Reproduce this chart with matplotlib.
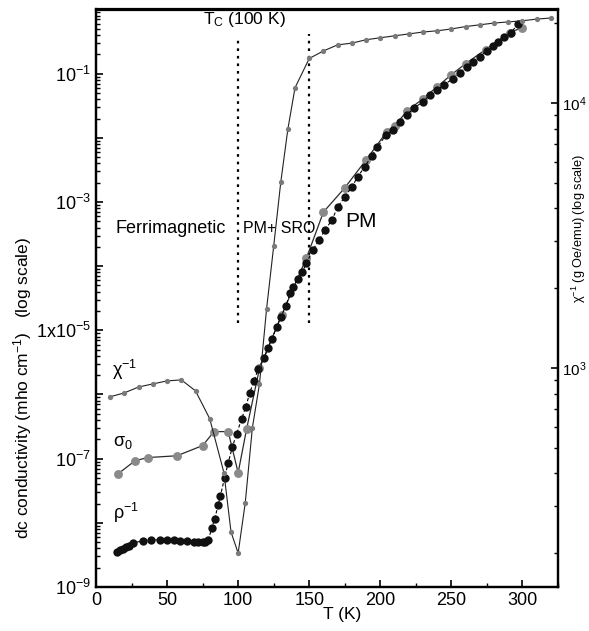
import matplotlib
matplotlib.use("Agg")
import matplotlib.pyplot as plt
from matplotlib.ticker import FixedLocator, FixedFormatter, LogLocator, NullFormatter

plt.rcParams['font.family'] = ['Liberation Sans', 'DejaVu Sans']
plt.rcParams['mathtext.fontset'] = 'custom'
plt.rcParams['mathtext.rm'] = 'Liberation Sans'
plt.rcParams['mathtext.it'] = 'Liberation Sans:italic'
plt.rcParams['mathtext.default'] = 'regular'

# rho^-1 : dc conductivity from resistivity (mho/cm)
rho_T = [15, 17, 19, 21, 23, 26, 33, 39, 45, 50, 55, 59, 64, 69, 72, 75, 77, 79,
         81.5, 83.5, 86, 87.5, 90.5, 93, 96, 99, 102.5, 105.5, 108, 111, 114, 118,
         121, 123.5, 127, 130, 133.5, 136.5, 138.5, 142, 145, 148, 152.5, 157, 161,
         166, 170, 175, 180, 184, 189, 194, 198, 204, 209, 214, 218.5, 224, 230,
         235, 240, 245, 251, 256, 261, 265, 270, 275, 279, 283, 287, 292, 297]
rho_inv = [3.52e-9, 3.79e-9, 3.93e-9, 4.22e-9, 4.37e-9, 4.87e-9, 5.23e-9, 5.43e-9,
           5.43e-9, 5.43e-9, 5.33e-9, 5.23e-9, 5.14e-9, 5.05e-9, 4.96e-9, 4.96e-9,
           5.05e-9, 5.4e-9, 8.35e-9, 1.155e-8, 1.91e-8, 2.64e-8, 5.05e-8, 8.66e-8,
           1.54e-7, 2.46e-7, 4.22e-7, 6.49e-7, 1.04e-6, 1.6e-6, 2.46e-6, 3.65e-6,
           5.24e-6, 7.2e-6, 1.11e-5, 1.6e-5, 2.37e-5, 3.79e-5, 4.7e-5, 6.3e-5, 8.0e-5,
           1.11e-4, 1.78e-4, 2.57e-4, 3.65e-4, 5.24e-4, 8.35e-4, 1.2e-3, 1.71e-3,
           2.46e-3, 3.52e-3, 5.24e-3, 7.2e-3, 0.0111, 0.0133, 0.0178, 0.0229, 0.0294,
           0.0365, 0.047, 0.0562, 0.0673, 0.0835, 0.104, 0.129, 0.154, 0.184, 0.229,
           0.274, 0.316, 0.379, 0.437, 0.6]

# sigma_0 : extracted dc conductivity
sig_T = [15.5, 27.5, 36.5, 57, 75, 83, 93, 100, 106, 115, 130.5, 148, 160, 175,
         190, 204.5, 210, 219, 230, 240, 250, 260, 274, 291, 300]
sig0 = [5.8e-8, 9.3e-8, 1.04e-7, 1.11e-7, 1.6e-7, 2.64e-7, 2.64e-7, 6.04e-8,
        2.94e-7, 2.55e-6, 1.71e-5, 1.33e-4, 6.98e-4, 1.66e-3, 4.53e-3, 0.0124,
        0.0154, 0.0264, 0.0407, 0.0626, 0.0964, 0.143, 0.237, 0.437, 0.523]

# chi^-1 : inverse susceptibility (g Oe/emu)
chi_T = [10, 20, 30, 40, 50, 60, 70, 80, 90, 95, 100, 105, 110, 115, 120, 125,
         130, 135, 140, 150, 160, 170, 180, 190, 200, 210, 220, 230, 240, 250,
         260, 270, 280, 290, 300, 310, 320]
chi_inv = [778, 805, 847, 870, 893, 901, 819, 643, 402, 240, 200, 310, 594, 870,
           1670, 2880, 5030, 7980, 11400, 14700, 15700, 16550, 16800, 17300, 17600,
           17900, 18200, 18500, 18700, 19000, 19400, 19700, 20000, 20200, 20400,
           20700, 20900]

left_decades = [1e-9, 1e-8, 1e-7, 1e-6, 1e-5, 1e-4, 1e-3, 1e-2, 1e-1]
left_labels = [r'10$^{-9}$', '', r'10$^{-7}$', '', r'1x10$^{-5}$', '',
               r'10$^{-3}$', '', r'10$^{-1}$']
right_decades = [1e3, 1e4]
right_labels = [r'10$^{3}$', r'10$^{4}$']
x_ticks = [0, 50, 100, 150, 200, 250, 300]

fig = plt.figure(figsize=(5.89, 6.31), dpi=100)
ax = fig.add_axes([96 / 589, 44 / 631, 462 / 589, 577.5 / 631])

ax.set_xlim(0, 325)
ax.set_yscale('log')
ax.set_ylim(1e-9, 1)

# phase boundaries
ax.plot([100, 100], [1.3e-5, 0.34], ls=(0, (1.2, 2.2)), color='black', lw=1.6)
ax.plot([150, 150], [1.3e-5, 0.41], ls=(0, (1.2, 2.2)), color='black', lw=1.6)

ax.plot(sig_T, sig0, '-', color='#2a2a2a', lw=0.9, zorder=3)
ax.plot(sig_T, sig0, 'o', color='#8a8a8a', ms=6.4, mec='none', zorder=4)
ax.plot(rho_T, rho_inv, '--', color='black', lw=0.8, dashes=(3, 2), zorder=5)
ax.plot(rho_T, rho_inv, 'o', color='#111111', ms=6.0, mec='none', zorder=6)

ax2 = ax.twinx()
ax2.set_yscale('log')
ax2.set_ylim(149, 22500)
ax2.plot(chi_T, chi_inv, '-', color='#222222', lw=0.8, zorder=3)
ax2.plot(chi_T, chi_inv, 'o', color='#7a7a7a', ms=3.8, mec='none', zorder=4)

# ticks
ax.yaxis.set_major_locator(FixedLocator(left_decades))
ax.yaxis.set_major_formatter(FixedFormatter(left_labels))
ax.yaxis.set_minor_locator(LogLocator(base=10, subs=range(2, 10), numticks=20))
ax.yaxis.set_minor_formatter(NullFormatter())
ax.set_xticks(x_ticks)
ax.set_xticks([25, 75, 125, 175, 225, 275, 325], minor=True)
ax.tick_params(axis='both', which='major', direction='in', length=5, width=1.2,
               labelsize=13)
ax.tick_params(axis='both', which='minor', direction='in', length=3, width=1.0)
ax.tick_params(axis='x', which='both', top=False)
ax.tick_params(axis='y', which='both', right=False)

ax2.yaxis.set_major_locator(FixedLocator(right_decades))
ax2.yaxis.set_major_formatter(FixedFormatter(right_labels))
ax2.yaxis.set_minor_locator(LogLocator(base=10, subs=range(2, 10), numticks=20))
ax2.yaxis.set_minor_formatter(NullFormatter())
ax2.tick_params(axis='y', which='major', direction='in', length=5, width=1.2,
                labelsize=11, pad=3)
ax2.tick_params(axis='y', which='minor', direction='in', length=3, width=1.0)

for a in (ax, ax2):
    for s in a.spines.values():
        s.set_linewidth(1.6)

ax.set_xlabel('T (K)', fontsize=12.5)
ax.xaxis.set_label_coords(0.532, -0.035)
ax.set_ylabel(r'dc conductivity (mho cm$^{-1}$)   (log scale)', fontsize=12.5)
ax.yaxis.set_label_coords(-0.135, 0.345)
ax2.set_ylabel(r'$\chi^{-1}$ (g Oe/emu) (log scale)', fontsize=9.2)
ax2.yaxis.set_label_coords(1.026, 0.62)

# annotations
ax.text(104.7, 0.70, r'T$_{\mathregular{C}}$ (100 K)', fontsize=12.5,
        ha='center', va='center')
ax.text(52.7, 3.8e-4, 'Ferrimagnetic', fontsize=13, ha='center', va='center')
ax.text(103.3, 3.8e-4, 'PM+ SRO', fontsize=11.5, ha='left', va='center')
ax.text(175, 5.0e-4, 'PM', fontsize=15, ha='left', va='center')
ax.text(11.2, 2.4e-6, r'$\chi^{-1}$', fontsize=13, ha='left', va='center')
ax.text(12, 1.8e-7, r'$\sigma_0$', fontsize=13, ha='left', va='center')
ax.text(12, 1.45e-8, r'$\rho^{-1}$', fontsize=13, ha='left', va='center')

fig.savefig('out.png', dpi=100)
